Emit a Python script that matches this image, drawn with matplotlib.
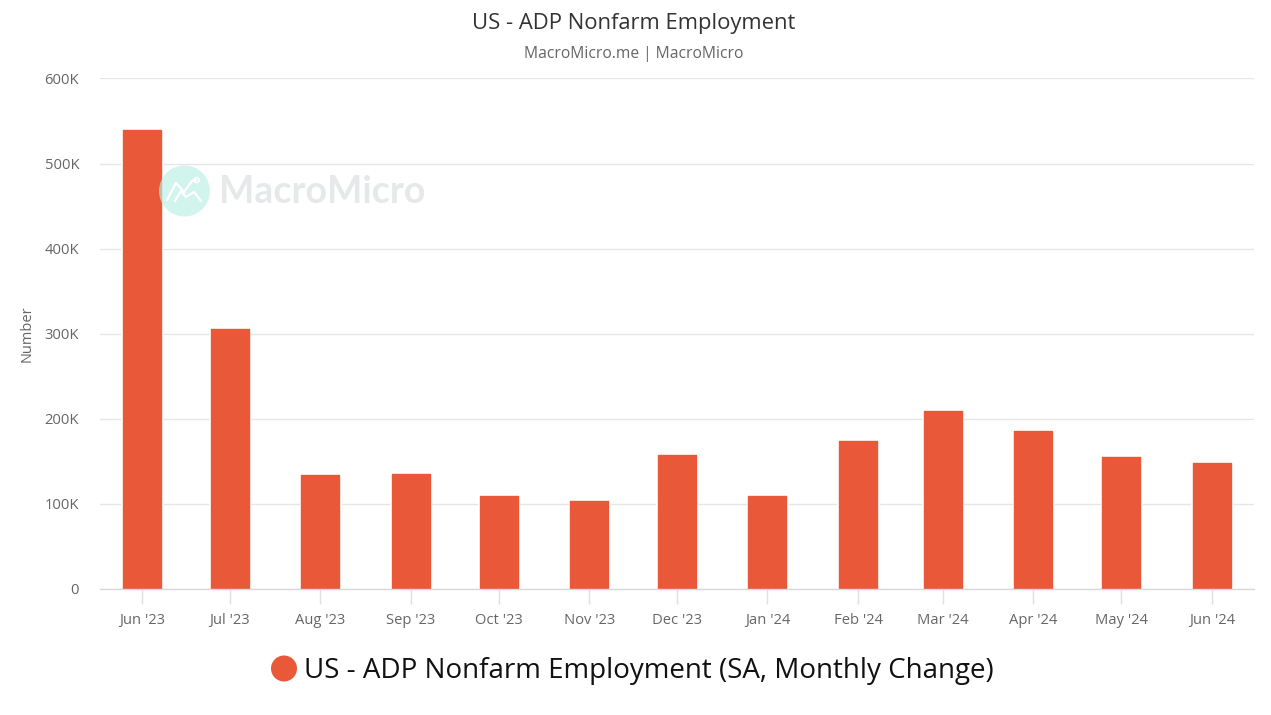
import datetime as dt
import matplotlib
matplotlib.use("Agg")
import matplotlib.pyplot as plt
import matplotlib.dates as mdates
from matplotlib.patches import Circle

plt.rcParams['font.family'] = ['Open Sans', 'Noto Sans', 'DejaVu Sans']

# months of the series, first of each month
months = [(2023, 6), (2023, 7), (2023, 8), (2023, 9), (2023, 10), (2023, 11), (2023, 12),
          (2024, 1), (2024, 2), (2024, 3), (2024, 4), (2024, 5), (2024, 6)]
month_labels = ["Jun '23", "Jul '23", "Aug '23", "Sep '23", "Oct '23", "Nov '23", "Dec '23",
                "Jan '24", "Feb '24", "Mar '24", "Apr '24", "May '24", "Jun '24"]
values = [540, 306, 133.5, 135, 109, 103, 157, 109, 174, 209.5, 186, 155, 148]
y_ticks = [0, 100, 200, 300, 400, 500, 600]
y_labels = ['0', '100K', '200K', '300K', '400K', '500K', '600K']

W, H = 1271, 715
BAR = '#e95839'
GREY = '#666666'


def fx(px):
    return px / W


def fy(py):
    return 1 - py / H


dates = [mdates.date2num(dt.date(y, m, 1)) for y, m in months]

fig = plt.figure(figsize=(W / 100, H / 100), dpi=100, facecolor='white')
ax = fig.add_axes([fx(100), fy(589), (1254 - 100) / W, (589 - 78.5) / H])

ax.set_axisbelow(True)
ax.yaxis.grid(True, color='#e6e6e6', lw=1)
# white halo cuts the gridlines, red bar on top with rounded corners
ax.bar(dates, values, width=13.4, color='white', edgecolor='white', linewidth=2, zorder=3)
ax.bar(dates, values, width=13.0, color=BAR, edgecolor=BAR, linewidth=1, joinstyle='round', zorder=4)

ax.set_xlim(dates[0] - 14.35, dates[0] + 380.45)
ax.set_ylim(0, 600)
ax.set_yticks(y_ticks, y_labels)
ax.set_xticks(dates, month_labels)
ax.tick_params(axis='y', length=0, pad=15, labelsize=10.6, labelcolor=GREY)
ax.tick_params(axis='x', length=11, width=1, color='#e0e0e0', pad=6, labelsize=10.6, labelcolor=GREY)
for s in ['top', 'right', 'left']:
    ax.spines[s].set_visible(False)
ax.spines['bottom'].set_color('#d8d8d8')
ax.spines['bottom'].set_linewidth(1)
ax.spines['bottom'].set_zorder(5)

ax.set_ylabel('Number', fontsize=10.5, color=GREY)
ax.yaxis.set_label_coords((35 - 100) / (1254 - 100), 0.5)

fig.text(fx(634), fy(23.5), 'US - ADP Nonfarm Employment', ha='center', va='center',
         fontsize=15.85, color='#333333')
fig.text(fx(633.5), fy(54), 'MacroMicro.me | MacroMicro', ha='center', va='center',
         fontsize=11.25, color=GREY)

# watermark
overlay = fig.add_axes([0, 0, 1, 1], facecolor='none')
overlay.set_xlim(0, W)
overlay.set_ylim(H, 0)
overlay.axis('off')
overlay.add_patch(Circle((184.5, 191), 25.5, color='#b9f0e4', alpha=0.65, lw=0, zorder=5))
overlay.plot([167, 176, 184, 192, 196], [200, 183, 192, 181, 180], color='white', lw=1.6, zorder=6)
overlay.plot([175, 181, 186, 194, 201], [201, 191, 197, 192, 201], color='white', lw=1.6, zorder=6)
overlay.add_patch(Circle((196.5, 180), 2.5, fc='none', ec='white', lw=1.2, zorder=6))
overlay.text(219, 192, 'MacroMicro', ha='left', va='center', fontsize=27, fontweight='bold',
             family=['Lato', 'DejaVu Sans'], color='#e6e8ea')

# legend
overlay.add_patch(Circle((284, 668.5), 13, color=BAR, lw=0))
overlay.text(304, 671, 'US - ADP Nonfarm Employment (SA, Monthly Change)', ha='left', va='center',
             fontsize=20.03, color='#111111')

fig.savefig('out.png', dpi=100)
